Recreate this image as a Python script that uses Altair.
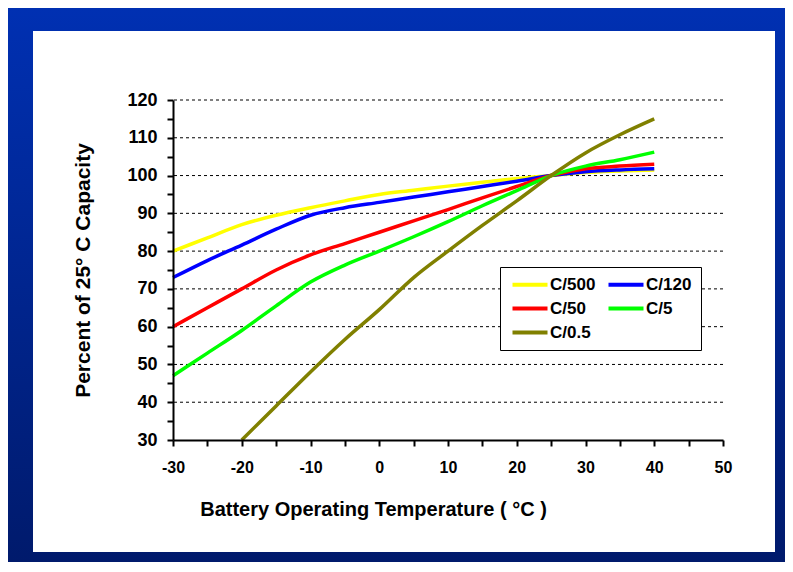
import altair as alt
import pandas as pd

# ---- data ----
temps = [-30, -25, -20, -15, -10, -5, 0, 5, 10, 15, 20, 25, 30, 35, 40]
c500 = [80, 83.5, 87, 89.5, 91.5, 93.3, 95, 96.1, 97.2, 98.2, 99.2, 100, 100.8, 101.2, 101.5]
c120 = [73, 77.5, 81.6, 85.8, 89.5, 91.5, 92.9, 94.3, 95.7, 97.1, 98.5, 100, 101, 101.5, 101.8]
c50 = [60, 65, 70, 75, 79, 82, 85, 88, 91, 94.1, 97.1, 100, 101.8, 102.5, 103]
c5 = [47, 53, 59, 65.5, 71.8, 76.3, 80, 83.8, 87.8, 92, 96, 100, 102.5, 104.2, 106.2]
temps_05 = [-20, -15, -10, -5, 0, 5, 10, 15, 20, 25, 30, 35, 40]
c05 = [30, 39, 48, 56.6, 64.5, 73, 80, 86.8, 93.3, 100, 106, 110.8, 115]

series_names = ["C/500", "C/120", "C/50", "C/5", "C/0.5"]
# legend fills column by column: order so rows read C/500 C/120 / C/50 C/5 / C/0.5
legend_order = ["C/500", "C/50", "C/0.5", "C/120", "C/5"]
legend_colors = ["#FFFF00", "#FF0000", "#808000", "#0000FF", "#00FF00"]

x_ticks = list(range(-30, 55, 5))
y_ticks = list(range(30, 125, 5))
grid_values = list(range(40, 130, 10))

rows = []
for name, xs, ys in [("C/500", temps, c500), ("C/120", temps, c120), ("C/50", temps, c50),
                     ("C/5", temps, c5), ("C/0.5", temps_05, c05)]:
    for t, v in zip(xs, ys):
        rows.append({"series": name, "temp": t, "pct": v})
df = pd.DataFrame(rows)
grid_df = pd.DataFrame({"pct": grid_values})
one = pd.DataFrame({"k": [0]})

FONT = "Liberation Sans"
xscale = alt.Scale(domain=[-30, 50], nice=False, zero=False)
yscale = alt.Scale(domain=[30, 120], nice=False, zero=False)
label_expr = "datum.value % 10 == 0 ? '' + datum.value : ''"

y_axis = alt.Axis(values=y_ticks, labelExpr=label_expr,
                  title="Percent of 25° C Capacity",
                  titleX=-90, titleY=170, titleAngle=270, titleAlign="center",
                  titleBaseline="middle", titleFontSize=21,
                  labelFontSize=18, labelPadding=10, tickSize=6, grid=False, zindex=2,
                  labelFlush=False, labelOverlap=False)
x_axis = alt.Axis(values=x_ticks, labelExpr=label_expr,
                  title="Battery Operating Temperature ( °C )",
                  titleX=200, titleY=75, titleAnchor="middle", titleAlign="center",
                  titleBaseline="alphabetic", titleFontSize=20,
                  labelFontSize=16, labelPadding=13, tickSize=6, grid=False, zindex=2,
                  labelFlush=False, labelOverlap=False)

blue_bg = alt.Chart(one).mark_rect(
    color=alt.LinearGradient(
        gradient="linear",
        stops=[alt.GradientStop(color="#0030B2", offset=0),
               alt.GradientStop(color="#001A6C", offset=1)],
        x1=0, x2=0, y1=0, y2=1,
    )
).encode(x=alt.value(-165), x2=alt.value(612), y=alt.value(-92), y2=alt.value(462))

white_bg = alt.Chart(one).mark_rect(color="white").encode(
    x=alt.value(-140), x2=alt.value(602), y=alt.value(-69), y2=alt.value(452)
)

grid = alt.Chart(grid_df).mark_rule(color="black", strokeWidth=1, strokeDash=[3, 3]).encode(
    y=alt.Y("pct:Q", scale=yscale, axis=y_axis)
)

lines = alt.Chart(df).mark_line(strokeWidth=3.5, interpolate="monotone").encode(
    x=alt.X("temp:Q", scale=xscale, axis=x_axis),
    y=alt.Y("pct:Q", scale=yscale, axis=y_axis),
    color=alt.Color("series:N",
                    scale=alt.Scale(domain=legend_order, range=legend_colors),
                    legend=alt.Legend(title=None, orient="none", legendX=327, legendY=167,
                                      columns=2, columnPadding=4, rowPadding=6,
                                      symbolType="M-1,0H6", symbolSize=100, symbolStrokeWidth=4,
                                      labelFontSize=17, labelFont=FONT, labelFontWeight="bold",
                                      labelColor="black", labelOffset=24, padding=9,
                                      strokeColor="black", fillColor="white")),
    order=alt.Order("temp:Q"),
    detail="series:N",
)

chart = alt.layer(blue_bg, white_bg, grid, lines).properties(
    width=550, height=340,
    autosize=alt.AutoSizeParams(type="none"),
    padding={"left": 165, "top": 92, "right": 62, "bottom": 122},
    background="#0030B2",
).configure_view(stroke=None).configure_axis(
    labelFont=FONT, labelFontWeight="bold", labelColor="black",
    titleFont=FONT, titleFontWeight="bold", titleColor="black",
    domainColor="black", domainWidth=2, tickColor="black", tickWidth=2,
)

chart.save("out.html", embed_options={"renderer": "svg", "actions": False})
